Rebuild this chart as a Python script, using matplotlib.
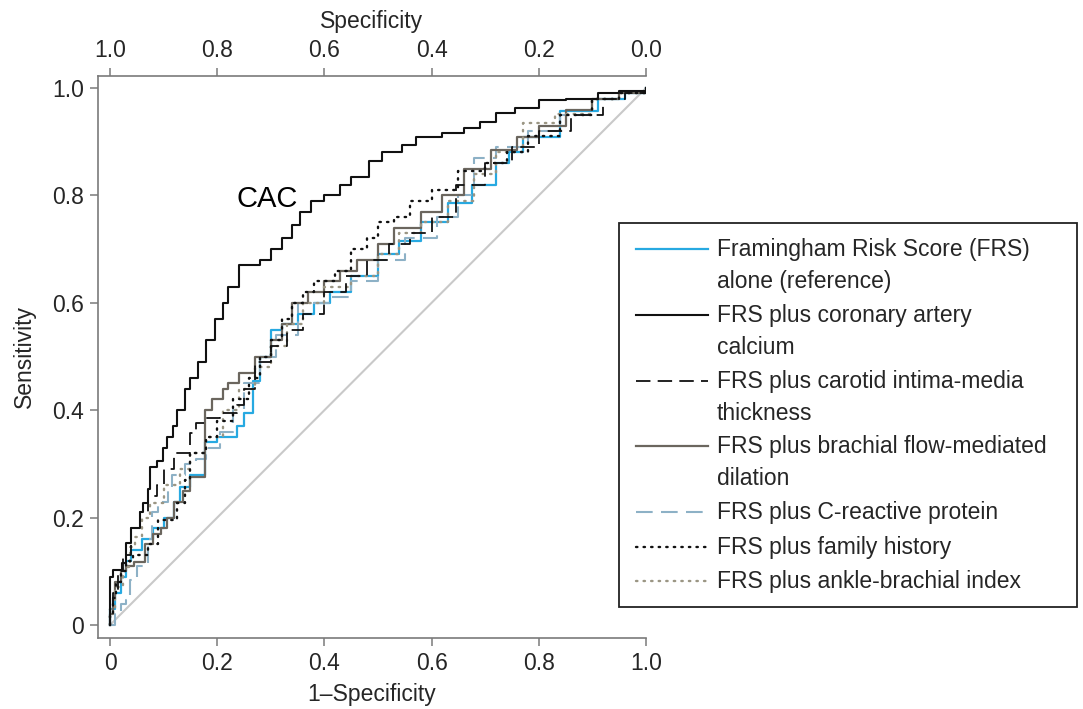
import matplotlib
matplotlib.use("Agg")
import matplotlib.pyplot as plt
from matplotlib.lines import Line2D
from matplotlib.patches import Rectangle

plt.rcParams['font.family'] = ['Liberation Sans', 'DejaVu Sans']

# ---------------- data (1-specificity, sensitivity) ----------------
fpr_frs = [0, 0, 0.01, 0.02, 0.03, 0.04, 0.06, 0.08, 0.1, 0.12, 0.13, 0.15, 0.177, 0.2, 0.237, 0.25, 0.266, 0.28, 0.3, 0.32,
           0.35, 0.38, 0.41, 0.45, 0.5, 0.54, 0.58, 0.63, 0.675, 0.72, 0.745, 0.77, 0.84, 0.91, 0.96, 1.0]
tpr_frs = [0, 0.03, 0.06, 0.09, 0.12, 0.14, 0.16, 0.18, 0.2, 0.23, 0.257, 0.28, 0.34, 0.35, 0.37, 0.395, 0.455, 0.5, 0.55, 0.56,
           0.58, 0.6, 0.62, 0.65, 0.69, 0.716, 0.75, 0.785, 0.82, 0.86, 0.88, 0.908, 0.958, 0.98, 0.99, 1.0]

fpr_cac = [0, 0, 0.006, 0.022, 0.03, 0.04, 0.056, 0.062, 0.07, 0.075, 0.087, 0.098, 0.106, 0.117, 0.125, 0.14, 0.15, 0.165,
           0.18, 0.195, 0.21, 0.22, 0.24, 0.28, 0.3, 0.32, 0.34, 0.355, 0.375, 0.4, 0.43, 0.45, 0.484, 0.508, 0.545, 0.57,
           0.62, 0.66, 0.69, 0.72, 0.755, 0.8, 0.85, 0.91, 0.95, 1.0]
tpr_cac = [0, 0.089, 0.102, 0.115, 0.153, 0.18, 0.21, 0.227, 0.253, 0.295, 0.305, 0.33, 0.35, 0.37, 0.4, 0.44, 0.46, 0.49,
           0.53, 0.57, 0.6, 0.63, 0.67, 0.68, 0.7, 0.72, 0.745, 0.77, 0.79, 0.8, 0.82, 0.835, 0.865, 0.88, 0.893, 0.908,
           0.917, 0.926, 0.936, 0.954, 0.962, 0.977, 0.98, 0.99, 0.995, 1.0]

fpr_cimt = [0, 0, 0.005, 0.015, 0.025, 0.04, 0.056, 0.07, 0.087, 0.1, 0.12, 0.15, 0.16, 0.18, 0.205, 0.236, 0.25, 0.27, 0.3,
            0.33, 0.36, 0.4, 0.44, 0.48, 0.52, 0.56, 0.6, 0.645, 0.7, 0.75, 0.8, 0.86, 0.92, 0.96, 1.0]
tpr_cimt = [0, 0.03, 0.06, 0.1, 0.13, 0.18, 0.21, 0.24, 0.26, 0.29, 0.32, 0.357, 0.376, 0.385, 0.395, 0.41, 0.44, 0.49, 0.52,
            0.55, 0.58, 0.62, 0.65, 0.68, 0.71, 0.73, 0.76, 0.82, 0.86, 0.89, 0.92, 0.95, 0.98, 0.99, 1.0]

fpr_fmd = [0, 0, 0.005, 0.01, 0.02, 0.03, 0.045, 0.065, 0.08, 0.095, 0.106, 0.12, 0.136, 0.15, 0.177, 0.19, 0.21, 0.22, 0.24,
           0.27, 0.3, 0.32, 0.34, 0.37, 0.4, 0.43, 0.46, 0.5, 0.53, 0.58, 0.62, 0.66, 0.71, 0.76, 0.8, 0.85, 0.9, 0.95, 1.0]
tpr_fmd = [0, 0.02, 0.05, 0.08, 0.1, 0.11, 0.118, 0.15, 0.17, 0.18, 0.2, 0.23, 0.25, 0.275, 0.4, 0.42, 0.44, 0.45, 0.47,
           0.5, 0.53, 0.56, 0.6, 0.62, 0.64, 0.66, 0.68, 0.71, 0.74, 0.77, 0.8, 0.85, 0.885, 0.908, 0.93, 0.96, 0.98, 0.99, 1.0]

fpr_crp = [0, 0.01, 0.02, 0.03, 0.037, 0.05, 0.07, 0.078, 0.09, 0.108, 0.115, 0.14, 0.16, 0.18, 0.205, 0.23, 0.25, 0.28,
           0.31, 0.35, 0.41, 0.45, 0.5, 0.55, 0.61, 0.65, 0.68, 0.72, 0.78, 0.84, 0.9, 0.95, 1.0]
tpr_crp = [0, 0.02, 0.04, 0.047, 0.084, 0.11, 0.16, 0.21, 0.23, 0.25, 0.28, 0.3, 0.31, 0.33, 0.36, 0.4, 0.45, 0.5,
           0.54, 0.6, 0.61, 0.64, 0.68, 0.72, 0.76, 0.8, 0.87, 0.89, 0.92, 0.95, 0.98, 0.99, 1.0]

fpr_fh = [0, 0, 0.005, 0.012, 0.02, 0.03, 0.043, 0.07, 0.09, 0.125, 0.14, 0.15, 0.18, 0.2, 0.23, 0.26, 0.28, 0.3, 0.32, 0.34,
          0.36, 0.38, 0.42, 0.45, 0.48, 0.5, 0.53, 0.56, 0.6, 0.65, 0.7, 0.74, 0.78, 0.84, 0.9, 0.95, 1.0]
tpr_fh = [0, 0.02, 0.05, 0.08, 0.1, 0.12, 0.13, 0.15, 0.195, 0.227, 0.27, 0.32, 0.35, 0.38, 0.42, 0.46, 0.5, 0.53, 0.57, 0.6,
          0.62, 0.64, 0.66, 0.7, 0.72, 0.75, 0.76, 0.79, 0.81, 0.846, 0.86, 0.88, 0.91, 0.95, 0.98, 0.99, 1.0]

fpr_abi = [0, 0, 0.01, 0.024, 0.037, 0.047, 0.06, 0.075, 0.1, 0.13, 0.15, 0.18, 0.21, 0.24, 0.27, 0.3, 0.33, 0.36, 0.4, 0.45,
           0.5, 0.54, 0.58, 0.63, 0.68, 0.72, 0.77, 0.83, 0.9, 0.95, 1.0]
tpr_abi = [0, 0.03, 0.07, 0.108, 0.145, 0.164, 0.2, 0.227, 0.26, 0.29, 0.32, 0.35, 0.4, 0.44, 0.48, 0.52, 0.56, 0.6, 0.63, 0.65,
           0.69, 0.73, 0.75, 0.79, 0.84, 0.88, 0.934, 0.952, 0.98, 0.99, 1.0]

labels = [
    "Framingham Risk Score (FRS)\nalone (reference)",
    "FRS plus coronary artery\ncalcium",
    "FRS plus carotid intima-media\nthickness",
    "FRS plus brachial flow-mediated\ndilation",
    "FRS plus C-reactive protein",
    "FRS plus family history",
    "FRS plus ankle-brachial index",
]

x_ticks = [0, 0.2, 0.4, 0.6, 0.8, 1.0]
x_ticklabels = ["0", "0.2", "0.4", "0.6", "0.8", "1.0"]
y_ticks = [0, 0.2, 0.4, 0.6, 0.8, 1.0]
y_ticklabels = ["0", "0.2", "0.4", "0.6", "0.8", "1.0"]
spec_ticklabels = ["1.0", "0.8", "0.6", "0.4", "0.2", "0.0"]

# ---------------- styles ----------------
DOT = (0, (0.6, 2.6))
styles = [
    dict(color="#27a9e1", lw=1.6, ls="-"),
    dict(color="#111111", lw=1.5, ls="-"),
    dict(color="#111111", lw=1.3, ls=(0, (8, 4))),
    dict(color="#6b665e", lw=1.6, ls="-"),
    dict(color="#8db1c6", lw=1.5, ls=(0, (8, 4))),
    dict(color="#111111", lw=1.7, ls=DOT, dash_capstyle="round"),
    dict(color="#9b9684", lw=1.7, ls=DOT, dash_capstyle="round"),
]
series = [(fpr_frs, tpr_frs), (fpr_cac, tpr_cac), (fpr_cimt, tpr_cimt), (fpr_fmd, tpr_fmd),
          (fpr_crp, tpr_crp), (fpr_fh, tpr_fh), (fpr_abi, tpr_abi)]

W, H = 1083, 709
fig = plt.figure(figsize=(W / 100, H / 100), dpi=100)
ax = fig.add_axes([98 / W, 1 - 638 / H, (646 - 98) / W, (638 - 76) / H])
ax.set_xlim(-0.0224, 1.0)
ax.set_ylim(-0.0242, 1.0224)

ax.plot([0, 1], [0, 1], color="#c9c9c9", lw=1.5, zorder=1)
order = [0, 4, 3, 6, 2, 5, 1]
for i in order:
    fx, ty = series[i]
    st = dict(styles[i])
    ax.plot(fx, ty, drawstyle="steps-post", zorder=3, **st)

ax.text(0.294, 0.793, "CAC", fontsize=21, color="#000000", ha="center", va="center")

spine_col = "#7a7a7a"
TXT = "#262626"
FS = 16.5
for s in ["right", "top"]:
    ax.spines[s].set_visible(False)
for s in ["left", "bottom"]:
    ax.spines[s].set_color(spine_col)
    ax.spines[s].set_linewidth(1.2)

ax.set_xticks(x_ticks)
ax.set_xticklabels(x_ticklabels)
ax.set_yticks(y_ticks)
ax.set_yticklabels(y_ticklabels)
ax.tick_params(direction="out", length=6, width=1.1, color=spine_col, labelsize=FS, labelcolor=TXT, pad=4)
ax.set_xlabel("1\u2013Specificity", fontsize=FS, color=TXT, labelpad=6)
ax.set_ylabel("Sensitivity", fontsize=FS, color=TXT, labelpad=12)

sec = ax.secondary_xaxis("top", functions=(lambda v: 1 - v, lambda v: 1 - v))
sec.set_xticks([1.0, 0.8, 0.6, 0.4, 0.2, 0.0])
sec.set_xticklabels(spec_ticklabels)
sec.spines["top"].set_color(spine_col)
sec.spines["top"].set_linewidth(1.2)
sec.tick_params(direction="out", length=6, width=1.1, color=spine_col, labelsize=FS, labelcolor=TXT, pad=4)
sec.set_xlabel("Specificity", fontsize=FS, color=TXT, labelpad=8)

# ---------------- manual legend (figure pixel coords) ----------------
def fx_(px):
    return px / W

def fy_(py):
    return 1 - py / H

fig.patches.append(Rectangle((fx_(619), fy_(607)), (1077 - 619) / W, (607 - 223) / H,
                             transform=fig.transFigure, fill=False, edgecolor="#222222", lw=1.3))
row_y = [249, 315, 381, 446, 512, 547, 581]
LINE_GAP = 32
for i, lab in enumerate(labels):
    st = dict(styles[i])
    fig.add_artist(Line2D([fx_(636), fx_(708)], [fy_(row_y[i])] * 2, transform=fig.transFigure, **st))
    for k, part in enumerate(lab.split("\n")):
        fig.text(fx_(717), fy_(row_y[i] + 7 + k * LINE_GAP), part, fontsize=FS, color=TXT,
                 ha="left", va="baseline")

fig.savefig("out.png", dpi=100)
